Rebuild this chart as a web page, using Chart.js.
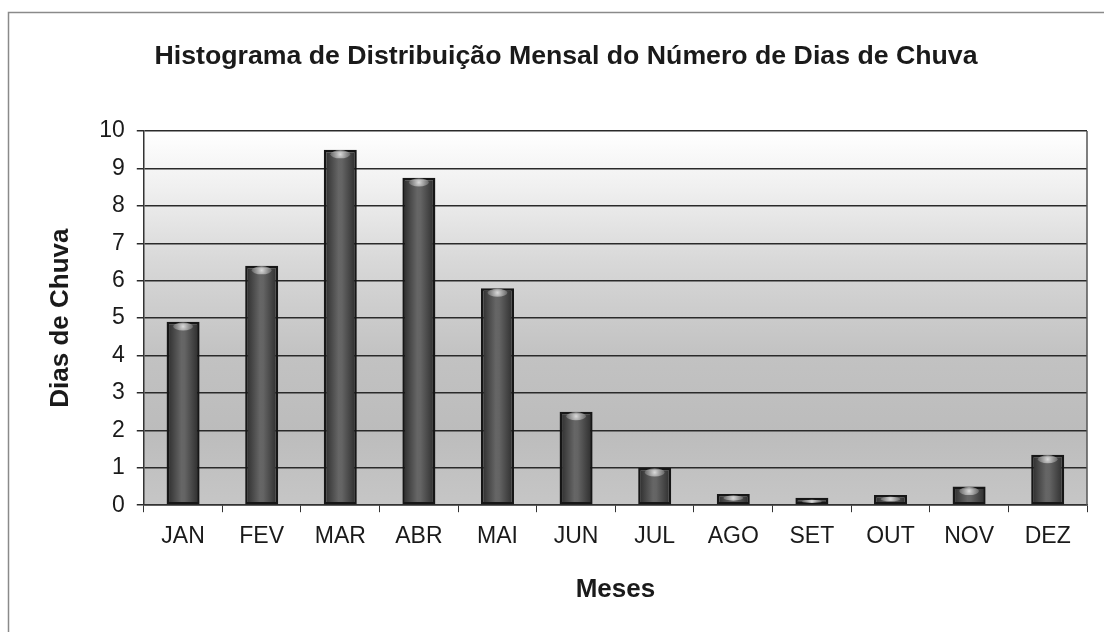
<!DOCTYPE html>
<html>
<head>
<meta charset="utf-8">
<script src="https://cdn.jsdelivr.net/npm/chart.js@4/dist/chart.umd.min.js"></script>
<style>
  body { margin: 0; background: #fff; }
  #wrap { width: 1104px; height: 632px; }
</style>
</head>
<body>
<div id="wrap"><canvas id="graphCanvas" width="1104" height="632"></canvas></div>
<script>
// dados
var months = ['JAN', 'FEV', 'MAR', 'ABR', 'MAI', 'JUN', 'JUL', 'AGO', 'SET', 'OUT', 'NOV', 'DEZ'];
var rainDays = [4.9, 6.4, 9.5, 8.75, 5.8, 2.5, 1.0, 0.3, 0.2, 0.27, 0.5, 1.35];
var yMin = 0, yMax = 10, yStep = 1;

var FONT = "Arial, 'Liberation Sans', sans-serif";
var BAR_PCT = 0.42;

function barFill(ctx) {
    var chart = ctx.chart;
    var xs = chart.scales.x;
    if (!xs || !chart.chartArea) return '#555';
    var cx = xs.getPixelForValue(ctx.dataIndex);
    var w = (xs.width / months.length) * BAR_PCT;
    var g = chart.ctx.createLinearGradient(cx - w / 2, 0, cx + w / 2, 0);
    g.addColorStop(0, '#2a2a2a');
    g.addColorStop(0.45, '#666');
    g.addColorStop(0.55, '#646464');
    g.addColorStop(1, '#2a2a2a');
    return g;
}

var decor = {
    id: 'decor',
    beforeDraw: function (chart) {
        var c = chart.ctx, a = chart.chartArea;
        c.save();
        c.fillStyle = '#fff';
        c.fillRect(0, 0, chart.width, chart.height);
        c.strokeStyle = '#8a8a8a';
        c.lineWidth = 1.5;
        c.strokeRect(8.5, 12.5, chart.width + 20, chart.height + 20);
        var g = c.createLinearGradient(0, a.top, 0, a.bottom);
        g.addColorStop(0, '#ffffff');
        g.addColorStop(0.15, '#f0f0f0');
        g.addColorStop(0.35, '#d8d8d8');
        g.addColorStop(0.6, '#c2c2c2');
        g.addColorStop(0.8, '#bcbcbc');
        g.addColorStop(1, '#c6c6c6');
        c.fillStyle = g;
        c.fillRect(a.left, a.top, a.right - a.left, a.bottom - a.top);
        c.restore();
    },
    afterDatasetsDraw: function (chart) {
        var c = chart.ctx;
        var meta = chart.getDatasetMeta(0);
        c.save();
        meta.data.forEach(function (bar) {
            var h = bar.base - bar.y;
            var rx = bar.width * 0.3;
            var ry = Math.min(4, Math.max(1.5, h * 0.25));
            var cy = bar.y + 3 + ry * 0.4;
            var g = c.createRadialGradient(bar.x, cy, 0, bar.x, cy, rx);
            g.addColorStop(0, 'rgba(225,225,225,0.95)');
            g.addColorStop(1, 'rgba(160,160,160,0.4)');
            c.fillStyle = g;
            c.beginPath();
            c.ellipse(bar.x, cy, rx, ry, 0, 0, Math.PI * 2);
            c.fill();
        });
        c.restore();
    },
    afterDraw: function (chart) {
        var c = chart.ctx, a = chart.chartArea;
        c.save();
        c.strokeStyle = '#555';
        c.lineWidth = 1.5;
        c.beginPath();
        c.moveTo(a.right, a.top);
        c.lineTo(a.right, a.bottom);
        c.stroke();
        c.restore();
    }
};

var chartdata = {
    labels: months,
    datasets: [
        {
            label: 'Dias de Chuva',
            data: rainDays,
            backgroundColor: barFill,
            borderColor: '#161616',
            borderWidth: 2.5,
            borderSkipped: false,
            barPercentage: BAR_PCT,
            categoryPercentage: 1
        }
    ]
};

var barGraph = new Chart(document.getElementById('graphCanvas'), {
    type: 'bar',
    data: chartdata,
    plugins: [decor],
    options: {
        responsive: false,
        animation: false,
        layout: { padding: { left: 45, right: 17, top: 0, bottom: 27 } },
        plugins: {
            legend: { display: false },
            tooltip: { enabled: false },
            title: {
                display: true,
                text: 'Histograma de Distribuição Mensal do Número de Dias de Chuva',
                color: '#1a1a1a',
                font: { family: FONT, size: 26.7, weight: 'bold' },
                padding: { top: 41, bottom: 58 }
            }
        },
        scales: {
            x: {
                grid: {
                    display: true,
                    drawOnChartArea: false,
                    drawTicks: true,
                    tickLength: 7,
                    color: '#333',
                    lineWidth: 1
                },
                border: { color: '#333', width: 1.5 },
                ticks: {
                    color: '#1a1a1a',
                    font: { family: FONT, size: 23 },
                    padding: 11,
                    maxRotation: 0
                },
                title: {
                    display: true,
                    text: 'Meses',
                    color: '#1a1a1a',
                    font: { family: FONT, size: 26, weight: 'bold' },
                    padding: { top: 12, bottom: 0 }
                }
            },
            y: {
                min: yMin,
                max: yMax,
                ticks: {
                    stepSize: yStep,
                    color: '#1a1a1a',
                    font: { family: FONT, size: 23 },
                    padding: 12
                },
                grid: {
                    color: '#2a2a2a',
                    lineWidth: 1.5,
                    tickLength: 7
                },
                border: { color: '#333', width: 1.5 },
                title: {
                    display: true,
                    text: 'Dias de Chuva',
                    color: '#1a1a1a',
                    font: { family: FONT, size: 26, weight: 'bold' },
                    padding: { top: 0, bottom: 11 }
                }
            }
        }
    }
});
</script>
</body>
</html>
